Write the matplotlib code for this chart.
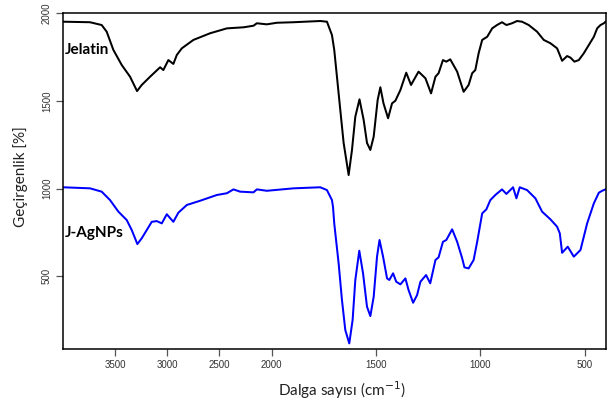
import numpy as np
import matplotlib
matplotlib.use("Agg")
import matplotlib.pyplot as plt

# Jelatin (black) spectrum: wavenumber (cm-1), transmittance (offset)
jel_w = [4000, 3741, 3629, 3581, 3517, 3437, 3357, 3290, 3245, 3165, 3069, 3038, 2990, 2942,
         2909, 2861, 2750, 2590, 2429, 2270, 2174, 2142, 2046, 1975, 1895, 1767, 1735, 1711,
         1700, 1687, 1671, 1655, 1631, 1615, 1599, 1579, 1559, 1543, 1527, 1511, 1492, 1479,
         1464, 1442, 1423, 1407, 1383, 1355, 1332, 1296, 1263, 1236, 1215, 1200, 1179, 1163,
         1144, 1111, 1080, 1056, 1039, 1024, 1008, 991, 967, 943, 920, 896, 875, 848, 824, 800,
         768, 728, 696, 664, 632, 608, 584, 568, 549, 528, 504, 480, 456, 440, 424, 408, 400]
jel_t = [1952, 1949, 1933, 1895, 1791, 1705, 1638, 1556, 1591, 1638, 1692, 1676, 1733, 1711,
         1762, 1800, 1848, 1886, 1914, 1920, 1929, 1943, 1937, 1946, 1949, 1956, 1952, 1876,
         1791, 1638, 1448, 1260, 1077, 1220, 1410, 1509, 1391, 1260, 1220, 1296, 1505, 1578,
         1486, 1401, 1486, 1501, 1562, 1661, 1591, 1667, 1629, 1543, 1638, 1658, 1733, 1724,
         1737, 1667, 1552, 1591, 1658, 1676, 1772, 1848, 1866, 1914, 1933, 1949, 1933, 1943, 1956, 1952,
         1933, 1895, 1848, 1829, 1800, 1729, 1756, 1747, 1724, 1733, 1772, 1819, 1866, 1914, 1933, 1943, 1952]

# J-AgNPs (blue) spectrum
ag_w = [4000, 3741, 3629, 3549, 3469, 3389, 3341, 3287, 3245, 3197, 3149, 3101, 3053, 3005,
        2942, 2894, 2813, 2686, 2525, 2429, 2366, 2302, 2174, 2142, 2046, 1895, 1767, 1735,
        1711, 1706, 1700, 1679, 1663, 1647, 1628, 1612, 1599, 1580, 1562, 1543, 1527, 1511,
        1495, 1483, 1466, 1447, 1436, 1418, 1403, 1383, 1359, 1344, 1322, 1303, 1287, 1260,
        1240, 1215, 1200, 1179, 1163, 1135, 1111, 1087, 1076, 1056, 1032, 1015, 991, 971, 952,
        928, 896, 875, 843, 827, 811, 776, 736, 704, 664, 632, 619, 608, 581, 552, 520, 488,
        456, 432, 416, 400]
ag_t = [1007, 1001, 982, 934, 868, 820, 763, 683, 716, 763, 810, 814, 801, 853,
        810, 862, 906, 930, 963, 973, 995, 982, 978, 995, 987, 1001, 1007, 991,
        934, 896, 801, 573, 363, 192, 116, 249, 478, 645, 516, 325, 272, 382,
        611, 706, 611, 487, 478, 516, 468, 453, 487, 421, 348, 392, 468, 506,
        459, 592, 607, 696, 706, 767, 696, 602, 550, 544, 592, 696, 858, 881, 934,
        963, 995, 969, 1007, 944, 1007, 991, 944, 868, 824, 782, 744, 633, 668, 611, 649, 801,
        915, 976, 987, 995]

x_ticks = [3500, 3000, 2500, 2000, 1500, 1000, 500]
y_ticks = [500, 1000, 1500, 2000]
labels = ["Jelatin", "J-AgNPs"]


def fwd(w):
    w = np.asarray(w, dtype=float)
    return np.where(w > 2000, 2000 + (w - 2000) / 2.0, w)


def inv(u):
    u = np.asarray(u, dtype=float)
    return np.where(u > 2000, 2000 + 2.0 * (u - 2000), u)


fig = plt.figure(figsize=(6.12, 4.09), dpi=100)
ax = fig.add_axes([0.1029, 0.1467, 0.8865, 0.8208])
ax.set_xscale("function", functions=(fwd, inv))

ax.plot(jel_w, jel_t, color="black", lw=1.45, solid_joinstyle="round")
ax.plot(ag_w, ag_t, color="#0000ff", lw=1.45, solid_joinstyle="round")

ax.set_xlim(4000, 400)
ax.set_ylim(84, 2000)
ax.set_xticks(x_ticks)
ax.set_xticklabels([str(v) for v in x_ticks])
ax.set_yticks(y_ticks)
ax.set_yticklabels([str(v) for v in y_ticks], rotation=90, va="center")
ax.minorticks_off()

ax.tick_params(direction="out", length=5, width=0.9, color="#555555",
               labelsize=7, labelcolor="#333333", pad=3)
for lab in ax.get_xticklabels() + ax.get_yticklabels():
    lab.set_family("Liberation Sans")
for s in ax.spines.values():
    s.set_linewidth(1.1)
    s.set_color("black")

ax.text(3985, 1790, labels[0], fontsize=11, fontweight="bold", family="Lato",
        ha="left", va="center")
ax.text(3985, 748, labels[1], fontsize=11, fontweight="bold", family="Lato",
        ha="left", va="center")

fig.text(0.034, 0.568, "Geçirgenlik [%]", rotation=90, fontsize=11, family="Lato",
         ha="center", va="center", color="#222222")
fig.text(0.558, 0.045, "Dalga sayısı (cm$^{-1}$)", fontsize=11, family="Lato",
         ha="center", va="center", color="#222222")

fig.savefig("out.png", dpi=100)
